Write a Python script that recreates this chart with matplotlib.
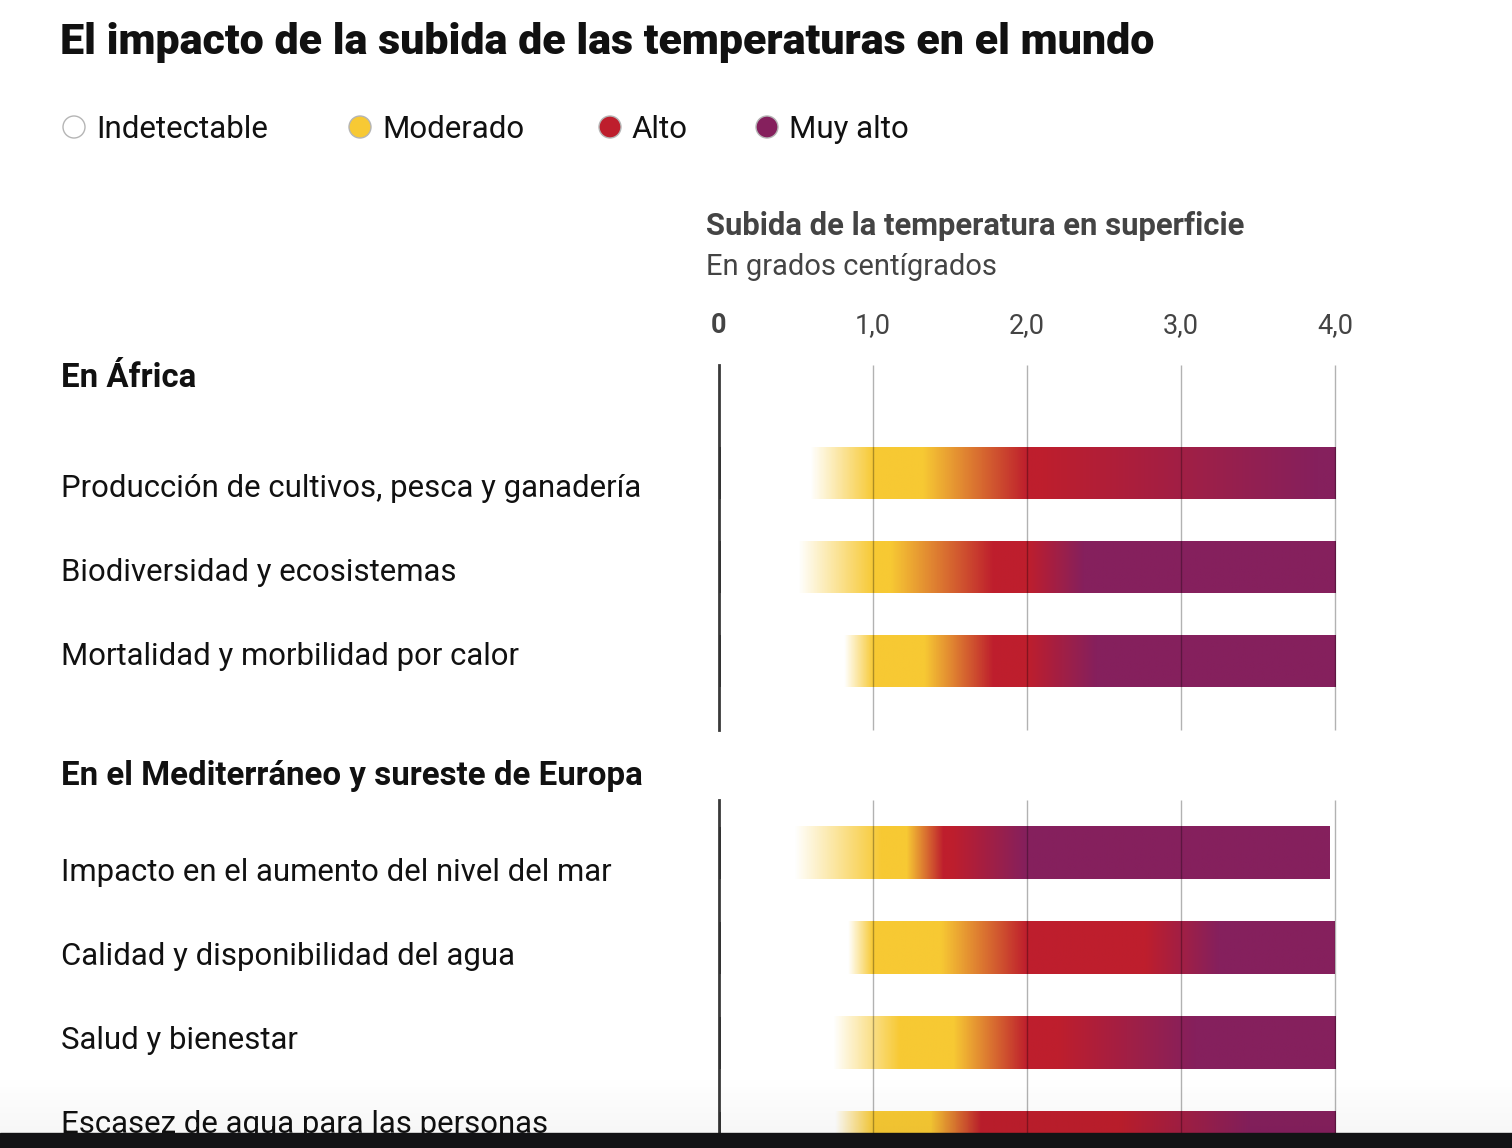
import numpy as np
import matplotlib
matplotlib.use("Agg")
import matplotlib.pyplot as plt
from matplotlib.colors import LinearSegmentedColormap
from matplotlib.patches import Circle, Rectangle
from matplotlib.ticker import FuncFormatter

plt.rcParams['font.family'] = ['Roboto', 'DejaVu Sans']

titulo = "El impacto de la subida de las temperaturas en el mundo"
niveles_nombres = ["Indetectable", "Moderado", "Alto", "Muy alto"]
niveles_colores = ["#ffffff", "#f7c934", "#be1e2d", "#85205d"]

eje_titulo = "Subida de la temperatura en superficie"
eje_subtitulo = "En grados centígrados"
ticks = [0, 1, 2, 3, 4]

region_africa = "En África"
riesgos_africa = ["Producción de cultivos, pesca y ganadería",
                  "Biodiversidad y ecosistemas",
                  "Mortalidad y morbilidad por calor"]
region_medit = "En el Mediterráneo y sureste de Europa"
riesgos_medit = ["Impacto en el aumento del nivel del mar",
                 "Calidad y disponibilidad del agua",
                 "Salud y bienestar",
                 "Escasez de agua para las personas"]

# nivel de riesgo en cada umbral (0 indetectable ... 3 muy alto)
niveles_umbral = [0, 1, 1, 2, 2, 3, 3]
# temperatura (ºC) de cada umbral, por fila
umbrales_africa = [
    [0.59, 1.00, 1.32, 2.00, 2.10, 3.90, 4.00],
    [0.51, 1.00, 1.11, 1.78, 2.00, 2.37, 4.00],
    [0.81, 1.00, 1.33, 1.78, 2.00, 2.45, 4.00],
]
umbrales_medit = [
    [0.49, 1.05, 1.22, 1.46, 1.52, 2.00, 3.97],
    [0.84, 1.00, 1.44, 2.00, 2.77, 3.25, 4.00],
    [0.74, 1.17, 1.52, 2.00, 2.20, 3.10, 4.00],
    [0.75, 1.00, 1.37, 1.70, 2.60, 3.45, 4.00],
]

W, H = 1512, 1148
fig = plt.figure(figsize=(W / 100, H / 100), dpi=100)
cmap = LinearSegmentedColormap.from_list(
    "riesgo", list(zip([0, 1 / 3, 2 / 3, 1], niveles_colores)))


def px_axes(x0, y0, x1, y1):
    return fig.add_axes([x0 / W, 1 - y1 / H, (x1 - x0) / W, (y1 - y0) / H])


def draw_rows(ax, umbrales, c0, sp, top, bottom):
    h = 0.55
    for i, u in enumerate(umbrales):
        x = np.linspace(u[0], u[-1], 800)
        lv = np.interp(x, u, niveles_umbral)
        rgba = cmap(lv / 3)[None, :, :]
        ax.imshow(rgba, extent=[u[0], u[-1], i + h / 2, i - h / 2],
                  aspect='auto', interpolation='bilinear', zorder=1)
    ylim = ((bottom - c0) / sp, (top - c0) / sp)
    ax.set_xlim(0, 4)
    ax.set_ylim(*ylim)
    ax.vlines(ticks[1:], ylim[0], ylim[1], color='k', alpha=0.3, lw=1,
              zorder=3, clip_on=False)
    ax.axvline(0, color='#3a3a3a', lw=2, zorder=4, clip_on=False)
    ax.barh(range(len(umbrales)), 0.012, left=0, height=h, color='#333',
            zorder=4)
    for s in ax.spines.values():
        s.set_visible(False)
    ax.set_yticks([])
    ax.patch.set_alpha(0)


ax1 = px_axes(719, 365, 1335, 730)
draw_rows(ax1, umbrales_africa, 473, 94, 365, 730)
ax1.xaxis.tick_top()
ax1.set_xticks(ticks)
ax1.xaxis.set_major_formatter(FuncFormatter(
    lambda v, p: '0' if v == 0 else f'{v:.1f}'.replace('.', ',')))
ax1.tick_params(axis='x', length=0, pad=19, labelsize=19.5, labelcolor='#444')
ax1.get_xticklabels()[0].set_fontweight('bold')

ax2 = px_axes(719, 800, 1335, 1133)
draw_rows(ax2, umbrales_medit, 853, 95, 800, 1133)
ax2.set_xticks([])

# capa de textos en coordenadas de pixel
ov = fig.add_axes([0, 0, 1, 1])
ov.set_zorder(5)
ov.patch.set_alpha(0)
ov.axis('off')

ov.text(60, 54, titulo, fontsize=31, fontweight='heavy', color='#111')

leg_x = [74, 360, 610, 767]
for x, nombre, col in zip(leg_x, niveles_nombres, niveles_colores):
    ov.add_patch(Circle((x, 127), 11, fc=col, ec='#b5b5b5', lw=1))
    ov.text(x + 22, 138, nombre, fontsize=22.5, color='#111')

ov.text(706, 235, eje_titulo, fontsize=22.3, fontweight='bold', color='#444')
ov.text(706, 275, eje_subtitulo, fontsize=21, color='#444')

ov.text(61, 387, region_africa, fontsize=23.8, fontweight='bold', color='#111')
for i, r in enumerate(riesgos_africa):
    ov.text(61, 497 + i * 84, r, fontsize=22.4, color='#111')

ov.text(61, 785, region_medit, fontsize=23.8, fontweight='bold', color='#111')
for i, r in enumerate(riesgos_medit):
    ov.text(61, 881 + i * 84, r, fontsize=22.4, color='#111')

# sombra y franja oscura inferior de la captura
sombra = np.zeros((60, 1, 4))
sombra[:, 0, 3] = np.linspace(0, 0.035, 60)
ov.imshow(sombra, extent=[0, W, 1133, 1073], aspect='auto', zorder=9)
ov.add_patch(Rectangle((0, 1133), W, 15, color='#131315', zorder=10))

ov.set_xlim(0, W)
ov.set_ylim(H, 0)

fig.savefig("out.png", dpi=100)
